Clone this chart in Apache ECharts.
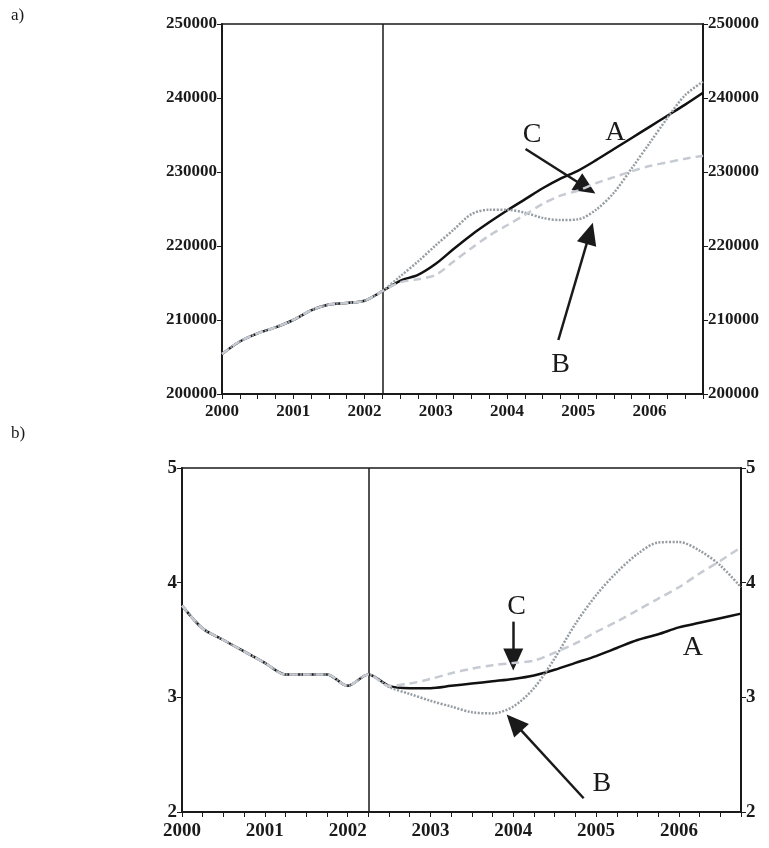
<!DOCTYPE html>
<html>
<head>
<meta charset="utf-8">
<script src="https://cdn.jsdelivr.net/npm/echarts@6/dist/echarts.min.js"></script>
<style>
  html, body { margin: 0; padding: 0; background: #fff; }
  #chart { width: 769px; height: 848px; }
</style>
</head>
<body>
<div id="chart"></div>
<script>
// quarters on the x axis (2000Q1 .. 2006Q4)
const quarters = [2000, 2000.25, 2000.5, 2000.75, 2001, 2001.25, 2001.5, 2001.75,
  2002, 2002.25, 2002.5, 2002.75, 2003, 2003.25, 2003.5, 2003.75,
  2004, 2004.25, 2004.5, 2004.75, 2005, 2005.25, 2005.5, 2005.75,
  2006, 2006.25, 2006.5, 2006.75];
const yearLabels = [2000, 2001, 2002, 2003, 2004, 2005, 2006];
const breakPoint = 2002.25;

// panel a) -- levels
const histA = [205400, 207100, 208200, 209000, 210000, 211300, 212100, 212300, 212600, 213900];
const fcA_A = [215300, 216100, 217600, 219600, 221500, 223200, 224800, 226300, 227800,
  229100, 230200, 231600, 233100, 234600, 236100, 237600, 239100, 240700];
const fcA_B = [215900, 217900, 220100, 222200, 224300, 224900, 224900, 224500, 223800,
  223500, 223600, 224900, 227200, 230500, 233900, 237300, 240400, 242200];
const fcA_C = [215100, 215500, 216100, 217900, 219700, 221400, 222800, 224200, 225700,
  226800, 227500, 228500, 229300, 230100, 230800, 231300, 231800, 232200];

// panel b) -- rates
const histB = [3.8, 3.6, 3.5, 3.4, 3.3, 3.2, 3.2, 3.2, 3.1, 3.2];
const fcB_A = [3.10, 3.08, 3.08, 3.10, 3.12, 3.14, 3.16, 3.19, 3.24,
  3.30, 3.36, 3.43, 3.50, 3.55, 3.61, 3.65, 3.69, 3.73];
const fcB_B = [3.09, 3.03, 2.97, 2.92, 2.87, 2.86, 2.92, 3.08, 3.34,
  3.64, 3.89, 4.09, 4.25, 4.35, 4.355, 4.28, 4.15, 3.96];
const fcB_C = [3.10, 3.12, 3.16, 3.21, 3.25, 3.28, 3.30, 3.32, 3.39,
  3.47, 3.57, 3.66, 3.76, 3.86, 3.96, 4.08, 4.19, 4.31];

// annotation anchors in data units: [x, y]
const notesA = {
  labels: [['C', 2004.35, 235000], ['A', 2005.52, 235300], ['B', 2004.75, 203900]],
  arrows: [[[2004.26, 233100], [2005.11, 227900]], [[2004.72, 207300], [2005.16, 221700]]]
};
const notesB = {
  labels: [['C', 2004.04, 3.79], ['A', 2006.17, 3.43], ['B', 2005.07, 2.25]],
  arrows: [[[2004.0, 3.66], [2004.0, 3.33]], [[2004.85, 2.12], [2004.01, 2.78]]]
};

const serif = 'Liberation Serif';
const ink = '#1a1a1a';

const toPts = arr => quarters.map((q, i) => [q, arr[i]]);

function xAxisFor(grid, size, margin) {
  return {
    gridIndex: grid, type: 'value', min: 2000, max: 2006.75, interval: 0.25,
    axisLine: { lineStyle: { color: ink, width: 2 } },
    axisTick: { length: 5, lineStyle: { color: ink, width: 1 } },
    axisLabel: {
      formatter: v => yearLabels.includes(v) ? String(v) : '',
      fontFamily: serif, fontWeight: 'bold', fontSize: size, color: ink, margin: margin
    },
    splitLine: { show: false }
  };
}

function yAxisFor(grid, pos, min, max, step, size) {
  return {
    gridIndex: grid, type: 'value', position: pos, min: min, max: max, interval: step,
    axisLine: { show: true, lineStyle: { color: ink, width: 2 } },
    axisTick: { show: true, length: 5, lineStyle: { color: ink, width: 1 } },
    axisLabel: { formatter: v => String(v), fontFamily: serif, fontWeight: 'bold', fontSize: size, color: ink, margin: 5 },
    splitLine: { show: false }
  };
}

function annotations(notes) {
  return {
    markLine: {
      silent: true, animation: false,
      symbol: ['none', 'none'],
      label: { show: false },
      data: [
        { xAxis: breakPoint, lineStyle: { color: ink, width: 1.5, type: 'solid' } }
      ].concat(notes.arrows.map(a => [
        { coord: a[0], symbol: 'none', lineStyle: { color: ink, width: 2.5, type: 'solid' } },
        { coord: a[1], symbol: 'triangle', symbolSize: [20, 22] }
      ]))
    },
    markPoint: {
      silent: true, animation: false, symbolSize: 0,
      data: notes.labels.map(l => ({
        coord: [l[1], l[2]],
        label: { show: true, formatter: l[0], position: 'inside', fontFamily: serif, fontSize: 28, color: ink }
      }))
    }
  };
}

function panelSeries(axisIdx, hist, a, b, c, notes) {
  return [
    Object.assign({
      name: 'A', type: 'line', xAxisIndex: axisIdx, yAxisIndex: axisIdx * 2,
      data: toPts(hist.concat(a)), showSymbol: false, smooth: 0.3,
      lineStyle: { color: '#111', width: 2.5 }, z: 3
    }, annotations(notes)),
    {
      name: 'B', type: 'line', xAxisIndex: axisIdx, yAxisIndex: axisIdx * 2,
      data: toPts(hist.concat(b)), showSymbol: false, smooth: 0.3,
      lineStyle: { color: '#959da2', width: 2.5, type: [2, 1.5] }, z: 4
    },
    {
      name: 'C', type: 'line', xAxisIndex: axisIdx, yAxisIndex: axisIdx * 2,
      data: toPts(hist.concat(c)), showSymbol: false, smooth: 0.3,
      lineStyle: { color: '#c6cad2', width: 2.5, type: [8, 5] }, z: 5
    }
  ];
}

const chart = echarts.init(document.getElementById('chart'));
chart.setOption({
  animation: false,
  backgroundColor: '#fff',
  title: [
    { text: 'a)', left: 6, top: 2, textStyle: { fontFamily: serif, fontSize: 17, fontWeight: 'normal', color: ink } },
    { text: 'b)', left: 6, top: 420, textStyle: { fontFamily: serif, fontSize: 17, fontWeight: 'normal', color: ink } }
  ],
  grid: [
    { left: 222, top: 24, width: 481, height: 370, show: true, borderColor: ink, borderWidth: 1.5 },
    { left: 182, top: 468, width: 559, height: 344, show: true, borderColor: ink, borderWidth: 1.5 }
  ],
  xAxis: [xAxisFor(0, 17, 9), xAxisFor(1, 19, 10)],
  yAxis: [
    yAxisFor(0, 'left', 200000, 250000, 10000, 17),
    yAxisFor(0, 'right', 200000, 250000, 10000, 17),
    yAxisFor(1, 'left', 2, 5, 1, 19),
    yAxisFor(1, 'right', 2, 5, 1, 19)
  ],
  series: panelSeries(0, histA, fcA_A, fcA_B, fcA_C, notesA)
    .concat(panelSeries(1, histB, fcB_A, fcB_B, fcB_C, notesB))
});
</script>
</body>
</html>
